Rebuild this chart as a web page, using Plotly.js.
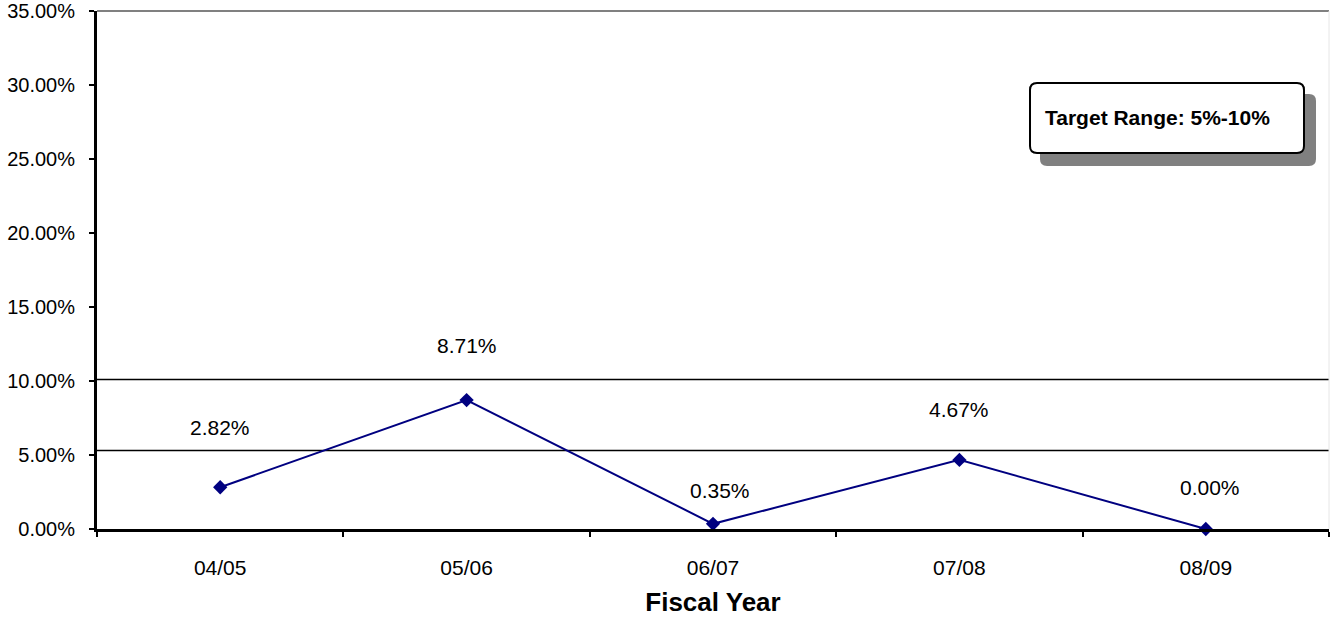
<!DOCTYPE html>
<html>
<head>
<meta charset="utf-8">
<script src="https://cdn.plot.ly/plotly-3.0.1.min.js"></script>
<style>
html,body{margin:0;padding:0;background:#fff;}
#chart{width:1330px;height:617px;}
</style>
</head>
<body>
<div id="chart"></div>
<script>
// ---- data ----
const fiscalYears = ["04/05", "05/06", "06/07", "07/08", "08/09"];
const rateValues = [2.82, 8.71, 0.35, 4.67, 0.00];
const targetLines = [5.3, 10.1];
const targetLabel = "Target Range: 5%-10%";
const xAxisTitle = "Fiscal Year";
const yTickValues = [0, 5, 10, 15, 20, 25, 30, 35];

// label placement (pixel offsets from each point) – layout, not data
const labelShifts = [[0, 60], [0, 55], [7, 33], [0, 50], [4, 42]];

// ---- layout helpers (plot area geometry) ----
const M = {l: 97, r: 1, t: 11, b: 88};
const W = 1330, H = 617;
const plotW = W - M.l - M.r, plotH = H - M.t - M.b;
const px = x => (x - M.l) / plotW;
const py = y => (H - M.b - y) / plotH;

function roundedRect(x0, y0, x1, y1, r) {
  const P = (x, y) => px(x).toFixed(5) + "," + py(y).toFixed(5);
  return "M" + P(x0 + r, y0) + " L" + P(x1 - r, y0) + " Q" + P(x1, y0) + " " + P(x1, y0 + r) +
         " L" + P(x1, y1 - r) + " Q" + P(x1, y1) + " " + P(x1 - r, y1) +
         " L" + P(x0 + r, y1) + " Q" + P(x0, y1) + " " + P(x0, y1 - r) +
         " L" + P(x0, y0 + r) + " Q" + P(x0, y0) + " " + P(x0 + r, y0) + " Z";
}

const FONT = "Liberation Sans, Arial, sans-serif";

const trace = {
  type: "scatter",
  mode: "lines+markers",
  x: fiscalYears,
  y: rateValues,
  line: {color: "#000080", width: 2},
  marker: {symbol: "diamond", size: 11, color: "#000080"},
  hoverinfo: "skip",
  cliponaxis: false
};

const shapes = targetLines.map(v => ({
  type: "line", xref: "paper", yref: "y", x0: 0, x1: 1, y0: v, y1: v,
  line: {color: "#000000", width: 1.5}, layer: "below"
}));
// top border of plot area
shapes.push({type: "line", xref: "paper", yref: "paper", x0: 0, x1: 1, y0: 1, y1: 1,
  line: {color: "#808080", width: 2}, layer: "below"});
// right border of plot area
shapes.push({type: "line", xref: "paper", yref: "paper", x0: 1, x1: 1, y0: 0, y1: 1,
  line: {color: "#e6e6e6", width: 1}, layer: "below"});
// text box shadow and box
shapes.push({type: "path", xref: "paper", yref: "paper",
  path: roundedRect(1040, 94, 1316, 166, 7),
  fillcolor: "#808080", line: {width: 0}, layer: "above"});
shapes.push({type: "path", xref: "paper", yref: "paper",
  path: roundedRect(1030, 83, 1304, 153, 7),
  fillcolor: "#ffffff", line: {color: "#000000", width: 2}, layer: "above"});

const annotations = rateValues.map((v, i) => ({
  x: fiscalYears[i], y: v, xref: "x", yref: "y",
  text: v.toFixed(2) + "%",
  showarrow: false,
  xanchor: "center", yanchor: "middle",
  xshift: labelShifts[i][0], yshift: labelShifts[i][1],
  font: {family: FONT, size: 21, color: "#000000"}
}));
annotations.push({
  xref: "paper", yref: "paper", x: px(1043), y: py(117),
  xanchor: "left", yanchor: "middle", showarrow: false,
  text: "<b>" + targetLabel + "</b>",
  font: {family: FONT, size: 21, color: "#000000"}
});

const layout = {
  width: W, height: H,
  margin: M,
  paper_bgcolor: "#ffffff",
  plot_bgcolor: "#ffffff",
  showlegend: false,
  font: {family: FONT, size: 21, color: "#000000"},
  xaxis: {
    type: "category",
    range: [-0.5, fiscalYears.length - 0.5],
    tickson: "boundaries",
    ticks: "outside", ticklen: 5, tickwidth: 2, tickcolor: "#000000",
    showline: true, linecolor: "#000000", linewidth: 3,
    showgrid: false, zeroline: false,
    ticklabelstandoff: 18,
    tickfont: {family: FONT, size: 21, color: "#000000"},
    title: {text: "<b>" + xAxisTitle + "</b>", standoff: 19,
            font: {family: FONT, size: 26, color: "#000000"}},
    fixedrange: true
  },
  yaxis: {
    range: [0, 35],
    tickmode: "array", tickvals: yTickValues,
    ticktext: yTickValues.map(v => v.toFixed(2) + "%"),
    ticks: "outside", ticklen: 5, tickwidth: 2, tickcolor: "#000000",
    showline: true, linecolor: "#000000", linewidth: 3,
    showgrid: false, zeroline: false,
    ticklabelstandoff: 10,
    ticklabeloverflow: "allow",
    tickfont: {family: FONT, size: 20, color: "#000000"},
    fixedrange: true
  },
  shapes: shapes,
  annotations: annotations
};

Plotly.newPlot("chart", [trace], layout, {displayModeBar: false, staticPlot: true});
</script>
</body>
</html>
